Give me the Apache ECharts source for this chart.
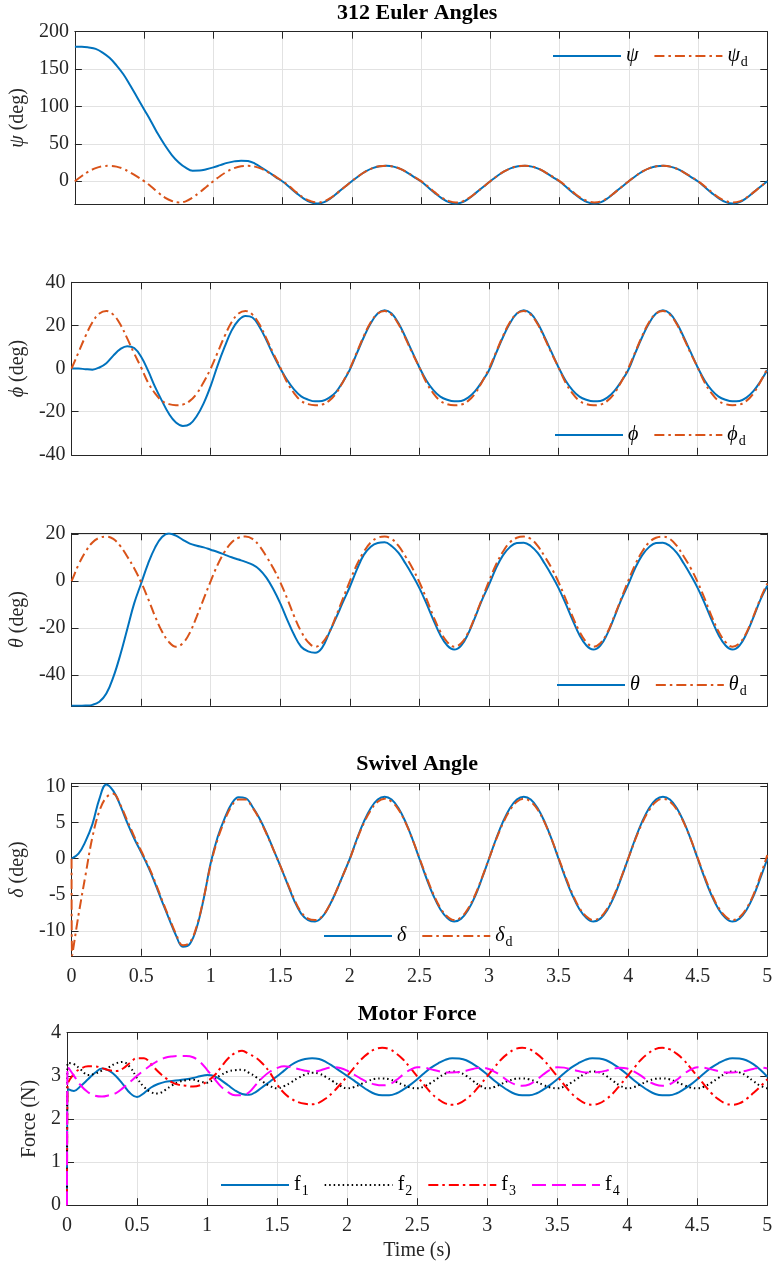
<!DOCTYPE html>
<html><head><meta charset="utf-8">
<script src="https://cdn.jsdelivr.net/npm/echarts@6/dist/echarts.min.js"></script>
<style>html,body{margin:0;padding:0;background:#fff}#c{width:778px;height:1269px}</style>
</head><body><div id="c"></div>
<script>
// ---- time samples (s) ----
const T = [0, 0.004,
 0.05,0.1,0.15,0.2,0.25,0.3,0.35,0.4,0.45,0.5,
 0.55,0.6,0.65,0.7,0.75,0.8,0.85,0.9,0.95,1.0,
 1.05,1.1,1.15,1.2,1.25,1.3,1.35,1.4,1.45,1.5,
 1.55,1.6,1.65,1.7,1.75,1.8,1.85,1.9,1.95,2.0,
 2.05,2.1,2.15,2.2,2.25,2.3,2.35,2.4,2.45,2.5,
 2.55,2.6,2.65,2.7,2.75,2.8,2.85,2.9,2.95,3.0,
 3.05,3.1,3.15,3.2,3.25,3.3,3.35,3.4,3.45,3.5,
 3.55,3.6,3.65,3.7,3.75,3.8,3.85,3.9,3.95,4.0,
 4.05,4.1,4.15,4.2,4.25,4.3,4.35,4.4,4.45,4.5,
 4.55,4.6,4.65,4.7,4.75,4.8,4.85,4.9,4.95,5.0];

// ---- 312 Euler angles (deg) ----
const psi = [180, 180,
 180, 179, 177, 172, 165, 155, 143, 128, 112, 96,
 80, 63, 48, 35, 25, 18, 14, 14.2, 16, 18.5,
 21.5, 24.5, 26.5, 27.5, 27, 23.5, 18, 12, 5.5, -0.5,
 -8, -16, -23, -28, -30, -28, -22.5, -15, -7.5, 0,
 7, 13, 17.5, 20, 20.5, 19.5, 16.5, 11.5, 5.5, -0.5,
 -8, -16, -23, -28, -30, -28, -22.5, -15, -7.5, 0,
 7, 13, 17.5, 20, 20.5, 19.5, 16.5, 11.5, 5.5, -0.5,
 -8, -16, -23, -28, -30, -28, -22.5, -15, -7.5, 0,
 7, 13, 17.5, 20, 20.5, 19.5, 16.5, 11.5, 5.5, -0.5,
 -8, -16, -23, -28, -30, -28, -22.5, -15, -7.5, 0];
const psid = [0, 0.5,
 7, 13, 17.5, 20, 20.5, 19.5, 16.5, 11.5, 6, 0,
 -7, -15, -22, -26.5, -28.5, -27, -22, -15, -7.5, 0,
 7, 13, 17.5, 20, 20.5, 19.5, 16.5, 11.5, 6, 0,
 -7, -15, -22, -26.5, -28.5, -27, -22, -15, -7.5, 0,
 7, 13, 17.5, 20, 20.5, 19.5, 16.5, 11.5, 6, 0,
 -7, -15, -22, -26.5, -28.5, -27, -22, -15, -7.5, 0,
 7, 13, 17.5, 20, 20.5, 19.5, 16.5, 11.5, 6, 0,
 -7, -15, -22, -26.5, -28.5, -27, -22, -15, -7.5, 0,
 7, 13, 17.5, 20, 20.5, 19.5, 16.5, 11.5, 6, 0,
 -7, -15, -22, -26.5, -28.5, -27, -22, -15, -7.5, 0];
const phi = [0, 0,
 0, -0.3, -0.5, 0.5, 2.5, 6, 9, 10.4, 9.5, 5.5,
 -1, -8.5, -15, -21, -25, -26.6, -25.8, -22, -16, -8,
 1.5, 10, 17.6, 22.4, 24.4, 23.7, 19.4, 13.2, 6.2, 0,
 -5.4, -9.8, -12.9, -14.4, -15.2, -15, -13.6, -10.9, -6.2, -0.5,
 7, 14.5, 21, 25.5, 27, 25.5, 21, 14.5, 7.5, 0.5,
 -5.5, -10, -13, -14.5, -15.2, -15, -13.5, -10.5, -6, -0.8,
 7, 14.5, 21, 25.5, 27, 25.5, 21, 14.5, 7.5, 0.5,
 -5.5, -10, -13, -14.5, -15.2, -15, -13.5, -10.5, -6, -0.8,
 7, 14.5, 21, 25.5, 27, 25.5, 21, 14.5, 7.5, 0.5,
 -5.5, -10, -13, -14.5, -15.2, -15, -13.5, -10.5, -6, -0.8];
const phid = [0, 0.6,
 7.5, 15, 21.5, 25.5, 26.7, 25, 20.5, 14, 7, 0.5,
 -6.5, -11.5, -15, -16.5, -17, -16.7, -15, -11.6, -6.2, 0,
 7.5, 15, 21.5, 25.5, 26.7, 25, 20.5, 14, 7, 0.5,
 -6.5, -11.5, -15, -16.5, -17, -16.7, -15, -11.6, -6.2, 0,
 7.5, 15, 21.5, 25.5, 26.7, 25, 20.5, 14, 7, 0.5,
 -6.5, -11.5, -15, -16.5, -17, -16.7, -15, -11.6, -6.2, 0,
 7.5, 15, 21.5, 25.5, 26.7, 25, 20.5, 14, 7, 0.5,
 -6.5, -11.5, -15, -16.5, -17, -16.7, -15, -11.6, -6.2, 0,
 7.5, 15, 21.5, 25.5, 26.7, 25, 20.5, 14, 7, 0.5,
 -6.5, -11.5, -15, -16.5, -17, -16.7, -15, -11.6, -6.2, 0];
const theta = [-53.2, -53.2,
 -53.2, -53.1, -52.8, -51.5, -48, -41, -31.5, -20.5, -9.5, -1,
 7.5, 14.3, 18.8, 20.3, 19.4, 17.6, 16, 15.1, 14.4, 13.4,
 12.4, 11.3, 10.2, 9.2, 8.2, 7, 5, 1.5, -3.5, -9.5,
 -16.5, -23, -28, -30, -30.6, -28.5, -22.3, -15.8, -9, -2.4,
 4.9, 11.2, 14.7, 16.3, 16.6, 15, 12, 7.5, 2.5, -3,
 -9.5, -16.5, -23, -27.5, -29.2, -27.5, -22.5, -15.5, -8, -1.5,
 5.5, 11, 14.5, 16.3, 16.4, 15, 12, 7.5, 2.5, -3,
 -9.5, -16.5, -23, -27.5, -29.2, -27.5, -22.5, -15.5, -8, -1.5,
 5.5, 11, 14.5, 16.3, 16.4, 15, 12, 7.5, 2.5, -3,
 -9.5, -16.5, -23, -27.5, -29.2, -27.5, -22.5, -15.5, -8, -2];
const thetad = [0, 0.5,
 7, 12.5, 16.5, 18.5, 19, 18, 15, 10.5, 5.5, -0.5,
 -7.5, -15, -21.5, -26, -28, -26.5, -22, -15, -7.5, 0,
 7, 12.5, 16.5, 18.5, 19, 18, 15, 10.5, 5.5, -0.5,
 -7.5, -15, -21.5, -26, -28, -26.5, -22, -15, -7.5, 0,
 7, 12.5, 16.5, 18.5, 19, 18, 15, 10.5, 5.5, -0.5,
 -7.5, -15, -21.5, -26, -28, -26.5, -22, -15, -7.5, 0,
 7, 12.5, 16.5, 18.5, 19, 18, 15, 10.5, 5.5, -0.5,
 -7.5, -15, -21.5, -26, -28, -26.5, -22, -15, -7.5, 0,
 7, 12.5, 16.5, 18.5, 19, 18, 15, 10.5, 5.5, -0.5,
 -7.5, -15, -21.5, -26, -28, -26.5, -22, -15, -7.5, -1];

// ---- swivel angle (deg) ----
const delta = [0, 0.02,
 0.7, 2.4, 4.8, 8.3, 10.3, 9.4, 7.4, 5.0, 2.8, 0.9,
 -1.1, -3.4, -5.9, -8.3, -10.6, -12.2, -11.8, -9.5, -5.5, -0.6,
 3.0, 5.6, 7.6, 8.5, 8.4, 7.2, 5.6, 3.6, 1.3, -1.0,
 -3.4, -5.8, -7.6, -8.5, -8.7, -8.1, -6.6, -4.6, -2.3, 0,
 2.7, 5.1, 7.0, 8.2, 8.6, 8.2, 7.0, 5.1, 2.7, 0,
 -2.7, -5.1, -7.0, -8.2, -8.7, -8.3, -7.1, -5.2, -2.7, 0,
 2.7, 5.1, 7.0, 8.2, 8.6, 8.2, 7.0, 5.1, 2.7, 0,
 -2.7, -5.1, -7.0, -8.2, -8.7, -8.3, -7.1, -5.2, -2.7, 0,
 2.7, 5.1, 7.0, 8.2, 8.6, 8.2, 7.0, 5.1, 2.7, 0,
 -2.7, -5.1, -7.0, -8.2, -8.7, -8.3, -7.1, -5.2, -2.7, 0];
const deltad = [0, -13.4,
 -7.8, -2.3, 3.0, 6.6, 8.5, 9.0, 7.5, 5.3, 3.1, 1.1,
 -0.9, -3.2, -5.7, -8.1, -10.4, -12.0, -11.6, -9.3, -5.4, -0.8,
 2.7, 5.3, 7.3, 8.2, 8.2, 7.1, 5.5, 3.5, 1.3, -1.0,
 -3.3, -5.6, -7.4, -8.3, -8.5, -8.0, -6.6, -4.6, -2.3, 0,
 2.6, 4.9, 6.7, 7.9, 8.3, 7.9, 6.8, 5.0, 2.7, 0.1,
 -2.5, -4.9, -6.8, -8.0, -8.5, -8.1, -6.9, -5.0, -2.6, 0,
 2.6, 4.9, 6.7, 7.9, 8.3, 7.9, 6.8, 5.0, 2.7, 0.1,
 -2.5, -4.9, -6.8, -8.0, -8.5, -8.1, -6.9, -5.0, -2.6, 0,
 2.6, 4.9, 6.7, 7.9, 8.3, 7.9, 6.8, 5.0, 2.7, 0.1,
 -2.5, -4.9, -6.8, -8.0, -8.5, -8.1, -6.9, -5.0, -2.4, 0.5];

// ---- motor force (N) ----
const f1 = [0, 2.7,
 2.65, 2.77, 2.92, 3.07, 3.17, 3.12, 2.99, 2.8, 2.6, 2.51,
 2.6, 2.73, 2.81, 2.86, 2.88, 2.9, 2.92, 2.95, 2.99, 3.02,
 3.0, 2.9, 2.78, 2.66, 2.58, 2.56, 2.63, 2.75, 2.87, 2.99,
 3.12, 3.25, 3.34, 3.39, 3.41, 3.39, 3.32, 3.22, 3.11, 3.0,
 2.89, 2.77, 2.66, 2.58, 2.55, 2.55, 2.59, 2.68, 2.79, 2.92,
 3.06, 3.19, 3.29, 3.37, 3.41, 3.4, 3.36, 3.27, 3.16, 3.03,
 2.89, 2.77, 2.66, 2.58, 2.55, 2.55, 2.59, 2.68, 2.79, 2.92,
 3.06, 3.19, 3.29, 3.37, 3.41, 3.4, 3.36, 3.27, 3.16, 3.03,
 2.89, 2.77, 2.66, 2.58, 2.55, 2.55, 2.59, 2.68, 2.79, 2.92,
 3.06, 3.19, 3.29, 3.37, 3.41, 3.4, 3.36, 3.27, 3.14, 2.98];
const f2 = [0, 3.3,
 3.27, 3.14, 3.02, 3.05, 3.12, 3.2, 3.29, 3.32, 3.2, 2.95,
 2.74, 2.62, 2.59, 2.67, 2.78, 2.86, 2.9, 2.91, 2.87, 2.84,
 2.92, 3.02, 3.1, 3.13, 3.14, 3.07, 2.97, 2.86, 2.76, 2.71,
 2.76, 2.85, 2.95, 3.03, 3.07, 3.05, 2.97, 2.87, 2.77, 2.71,
 2.74, 2.81, 2.88, 2.93, 2.94, 2.92, 2.86, 2.79, 2.73, 2.71,
 2.75, 2.84, 2.95, 3.05, 3.1, 3.08, 3.0, 2.88, 2.77, 2.71,
 2.74, 2.81, 2.88, 2.93, 2.94, 2.92, 2.86, 2.79, 2.73, 2.71,
 2.75, 2.84, 2.95, 3.05, 3.1, 3.08, 3.0, 2.88, 2.77, 2.71,
 2.74, 2.81, 2.88, 2.93, 2.94, 2.92, 2.86, 2.79, 2.73, 2.71,
 2.75, 2.84, 2.95, 3.05, 3.1, 3.08, 3.0, 2.88, 2.77, 2.71];
const f3 = [0, 2.75,
 3.05, 3.17, 3.22, 3.22, 3.18, 3.13, 3.11, 3.17, 3.3, 3.41,
 3.41, 3.27, 3.1, 2.96, 2.85, 2.79, 2.77, 2.75, 2.78, 2.87,
 3.0, 3.2, 3.4, 3.53, 3.58, 3.5, 3.42, 3.27, 3.07, 2.8,
 2.6, 2.47, 2.39, 2.35, 2.34, 2.38, 2.48, 2.62, 2.8, 2.99,
 3.19, 3.38, 3.52, 3.62, 3.65, 3.62, 3.52, 3.38, 3.19, 2.99,
 2.79, 2.6, 2.46, 2.36, 2.33, 2.36, 2.46, 2.6, 2.79, 2.99,
 3.19, 3.38, 3.52, 3.62, 3.65, 3.62, 3.52, 3.38, 3.19, 2.99,
 2.79, 2.6, 2.46, 2.36, 2.33, 2.36, 2.46, 2.6, 2.79, 2.99,
 3.19, 3.38, 3.52, 3.62, 3.65, 3.62, 3.52, 3.38, 3.19, 2.99,
 2.79, 2.6, 2.46, 2.36, 2.33, 2.36, 2.46, 2.6, 2.75, 2.92];
const f4 = [0, 3.22,
 3.0, 2.77, 2.62, 2.54, 2.52, 2.55, 2.6, 2.72, 2.86, 3.0,
 3.13, 3.25, 3.35, 3.42, 3.45, 3.46, 3.46, 3.43, 3.32, 3.14,
 2.94, 2.75, 2.62, 2.55, 2.55, 2.62, 2.8, 2.97, 3.1, 3.18,
 3.22, 3.2, 3.16, 3.12, 3.1, 3.12, 3.17, 3.2, 3.18, 3.12,
 3.03, 2.93, 2.85, 2.8, 2.78, 2.8, 2.9, 3.03, 3.14, 3.2,
 3.19, 3.15, 3.11, 3.08, 3.08, 3.09, 3.12, 3.16, 3.19, 3.17,
 3.1, 3.0, 2.88, 2.8, 2.77, 2.8, 2.9, 3.03, 3.14, 3.2,
 3.19, 3.15, 3.11, 3.08, 3.08, 3.09, 3.12, 3.16, 3.19, 3.17,
 3.1, 3.0, 2.88, 2.8, 2.77, 2.8, 2.9, 3.03, 3.14, 3.2,
 3.19, 3.15, 3.11, 3.08, 3.08, 3.09, 3.12, 3.16, 3.19, 3.17];

// ---- tick labels / texts ----
const xTicks = [0, 0.5, 1, 1.5, 2, 2.5, 3, 3.5, 4, 4.5, 5];
const titles = ['312 Euler Angles', 'Swivel Angle', 'Motor Force'];

// ---------------- chart construction ----------------
const FONT = '"Liberation Serif","DejaVu Serif",serif';
const AX = '#262626';
const GRIDC = '#e2e2e2';
const BLUE = '#0072BD', ORANGE = '#D95319';
const GRID_TOPS = [31.7, 282.3, 533.3, 783.3, 1032.7];
const GH = 172.5;
const PL = 67, PR = 10.7;

const yCfg = [
  {min: -30.8, max: 200, step: 50, split: 5, name: '{i|ψ} (deg)', gap: 40},
  {min: -40, max: 40, step: 20, split: 4, name: '{i|ϕ} (deg)', gap: 40},
  {min: -53.2, max: 20.4, step: 20, split: 4, name: '{i|θ} (deg)', gap: 40},
  {min: -13.45, max: 10.45, step: 5, split: 5, name: '{i|δ} (deg)', gap: 40},
  {min: 0, max: 4, step: 1, split: 4, name: 'Force (N)', gap: 24}
];

const DASHDOT = [10, 4, 2.5, 4];
const seriesCfg = [
  {g: 0, name: 'psi', data: psi, color: BLUE, type: 'solid'},
  {g: 0, name: 'psid', data: psid, color: ORANGE, type: DASHDOT},
  {g: 1, name: 'phi', data: phi, color: BLUE, type: 'solid'},
  {g: 1, name: 'phid', data: phid, color: ORANGE, type: DASHDOT},
  {g: 2, name: 'theta', data: theta, color: BLUE, type: 'solid'},
  {g: 2, name: 'thetad', data: thetad, color: ORANGE, type: DASHDOT},
  {g: 3, name: 'delta', data: delta, color: BLUE, type: 'solid'},
  {g: 3, name: 'deltad', data: deltad, color: ORANGE, type: DASHDOT},
  {g: 4, name: 'f1', data: f1, color: BLUE, type: 'solid'},
  {g: 4, name: 'f2', data: f2, color: '#000000', type: [1.5, 3]},
  {g: 4, name: 'f3', data: f3, color: '#FF0000', type: DASHDOT},
  {g: 4, name: 'f4', data: f4, color: '#FF00FF', type: [14, 6]}
];

const legendText = {
  psi: '{i|ψ}', psid: '{i|ψ}{s|d}',
  phi: '{i|ϕ}', phid: '{i|ϕ}{s|d}',
  theta: '{i|θ}', thetad: '{i|θ}{s|d}',
  delta: '{i|δ}', deltad: '{i|δ}{s|d}',
  f1: '{n|f}{s|1}', f2: '{n|f}{s|2}', f3: '{n|f}{s|3}', f4: '{n|f}{s|4}'
};
const legendCfg = [
  {left: 552, cy: 54, data: ['psi', 'psid']},
  {left: 554, cy: 433, data: ['phi', 'phid']},
  {left: 556, cy: 683, data: ['theta', 'thetad']},
  {left: 323, cy: 934, data: ['delta', 'deltad']},
  {left: 220, cy: 1183, data: ['f1', 'f2', 'f3', 'f4']}
];
const titleCfg = [
  {text: titles[0], top: 2},
  {text: titles[1], top: 753},
  {text: titles[2], top: 1003}
];

const grid = GRID_TOPS.map(t => ({left: PL, right: PR, top: t, height: GH}));
const xAxis = [], yAxis = [];
GRID_TOPS.forEach((t, i) => {
  const base = {
    gridIndex: i, type: 'value', min: xTicks[0], max: xTicks[xTicks.length - 1], interval: 0.5,
    axisLine: {show: true, onZero: false, lineStyle: {color: AX, width: 1}},
    axisTick: {show: true, inside: true, length: 7, lineStyle: {color: AX, width: 1}},
  };
  xAxis.push(Object.assign({}, base, {
    position: 'bottom',
    axisLabel: {show: i >= 3, fontSize: 20, fontFamily: FONT, color: AX, margin: 11},
    splitLine: {show: true, lineStyle: {color: GRIDC, width: 1}},
    name: i === 4 ? 'Time (s)' : '', nameLocation: 'middle', nameGap: 36,
    nameTextStyle: {fontSize: 20, fontFamily: FONT, color: AX}
  }));
  xAxis.push(Object.assign({}, base, {
    position: 'top', axisLabel: {show: false}, splitLine: {show: false}
  }));
  const c = yCfg[i];
  const ybase = {
    gridIndex: i, type: 'value', min: c.min, max: c.max, splitNumber: c.split,
    minInterval: c.step, maxInterval: c.step,
    axisLine: {show: true, onZero: false, lineStyle: {color: AX, width: 1}},
    axisTick: {show: true, inside: true, length: 7, lineStyle: {color: AX, width: 1}},
  };
  yAxis.push(Object.assign({}, ybase, {
    position: 'left',
    axisLabel: {
      show: true, fontSize: 20, fontFamily: FONT, color: AX, margin: 6,
      formatter: v => {
        const k = v / c.step;
        return Math.abs(k - Math.round(k)) < 1e-6 ? String(Math.round(k) * c.step) : '';
      }
    },
    splitLine: {show: true, lineStyle: {color: GRIDC, width: 1}},
    name: c.name, nameLocation: 'middle', nameGap: c.gap,
    nameTextStyle: {fontSize: 20, fontFamily: FONT, color: AX,
      rich: {i: {fontSize: 20, fontFamily: FONT, fontStyle: 'italic', color: AX}}}
  }));
  yAxis.push(Object.assign({}, ybase, {
    position: 'right', axisLabel: {show: false}, splitLine: {show: false}
  }));
});

const series = seriesCfg.map(s => ({
  type: 'line', name: s.name, xAxisIndex: 2 * s.g, yAxisIndex: 2 * s.g,
  data: T.map((t, k) => [t, s.data[k]]),
  showSymbol: false, symbol: 'none', smooth: 0.4, clip: true,
  lineStyle: {color: s.color, width: 2, type: s.type},
  itemStyle: {color: s.color},
  emphasis: {disabled: true}, silent: true, animation: false
}));

const legend = legendCfg.map(l => ({
  left: l.left, top: l.cy - 11, padding: 0, itemWidth: 68, itemHeight: 12, itemGap: 15,
  selectedMode: false, data: l.data,
  itemStyle: {opacity: 0},
  formatter: n => legendText[n],
  textStyle: {
    fontSize: 20, fontFamily: FONT, color: '#000', padding: [0, 0, 0, 0],
    rich: {
      i: {fontSize: 20, fontFamily: FONT, fontStyle: 'italic', color: '#000', lineHeight: 20},
      n: {fontSize: 20, fontFamily: FONT, color: '#000', lineHeight: 20},
      s: {fontSize: 14, fontFamily: FONT, color: '#000', lineHeight: 14, padding: [12, 0, 0, 1]}
    }
  }
}));

const title = titleCfg.map(tc => ({
  text: tc.text, left: (PL + (778 - PR)) / 2, textAlign: 'center', top: tc.top, padding: 0,
  textStyle: {fontSize: 22, fontWeight: 'bold', fontFamily: FONT, color: '#000'}
}));

const chart = echarts.init(document.getElementById('c'), null, {renderer: 'canvas'});
chart.setOption({
  animation: false, backgroundColor: '#fff',
  title, grid, xAxis, yAxis, legend, series
});
</script></body></html>
